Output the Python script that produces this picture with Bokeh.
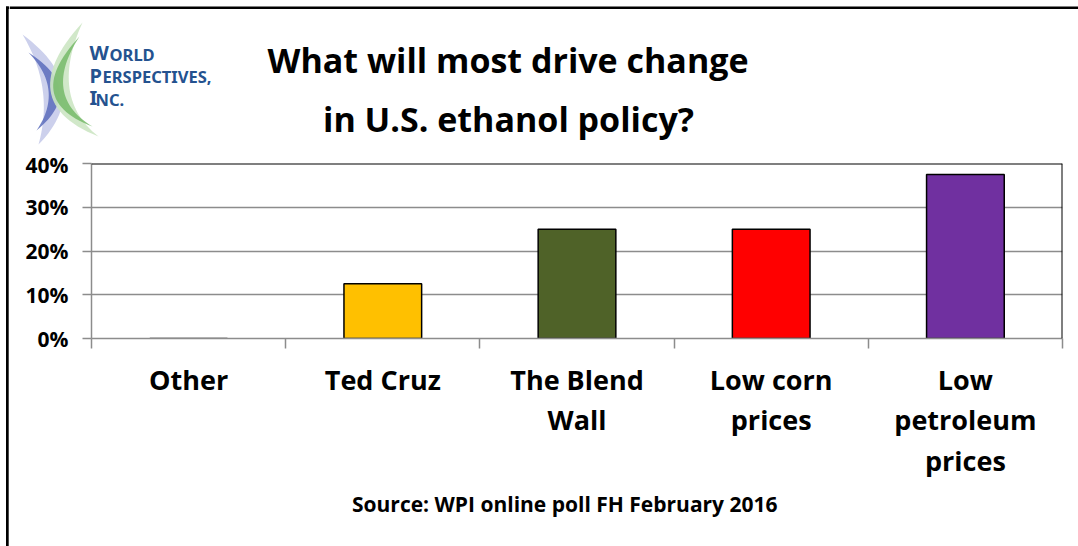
from bokeh.plotting import figure
from bokeh.layouts import row, column
from bokeh.models import Range1d, FixedTicker, NumeralTickFormatter, Span
from bokeh.core.properties import value
from bokeh.embed import file_html
from bokeh.resources import INLINE

# ---- data ----
categories = ["Other", "Ted Cruz", "The Blend\nWall", "Low corn\nprices", "Low\npetroleum\nprices"]
shares = [0.0, 0.125, 0.25, 0.25, 0.375]
bar_colors = ["#FFFFFF", "#FFC000", "#4F6228", "#FF0000", "#7030A0"]
y_ticks = [0.0, 0.1, 0.2, 0.3, 0.4]
title_lines = ["What will most  drive change", "in U.S. ethanol policy?"]
source_text = "Source:  WPI online poll FH February 2016"
logo_lines = [("W", "ORLD"), ("P", "ERSPECTIVES,"), ("I", "NC.")]

# ---- page geometry (canvas pixels) ----
W, H = 1078, 546
STRIP = 9               # left strip holding the outer border
TOP_H = 150             # title band
MID_BOT = 360           # bottom of the chart figure
FL, FR, FT, FB = 91, 1062, 163, 338   # chart frame edges
n = len(categories)
FONT = "Open Sans"
BASE_K = 0.38           # baseline correction (fraction of font size)


def base(y, size):
    return y - BASE_K * size


def blank(width, height, xr, yr):
    f = figure(width=width, height=height, output_backend="svg", toolbar_location=None,
               x_range=xr, y_range=yr, x_axis_location=None, y_axis_location=None,
               min_border=0, min_border_left=0, min_border_right=0,
               min_border_top=0, min_border_bottom=0, frame_align=False)
    f.grid.visible = False
    f.outline_line_color = None
    f.background_fill_color = "white"
    f.border_fill_color = "white"
    return f


# ---- left strip: outer border ----
strip = blank(STRIP, H, Range1d(0, STRIP), Range1d(H, 0))
strip.quad(left=[5.5, 5.5], right=[8.2, STRIP], top=[6, 6], bottom=[H, 8.5],
           fill_color="black", line_color=None)

# ---- title band ----
top = blank(W - STRIP, TOP_H, Range1d(STRIP, W), Range1d(TOP_H, 0))
top.quad(left=[STRIP], right=[W], top=[6], bottom=[8.5], fill_color="black", line_color=None)


def crescent(tp, bt, m_out, m_in, steps=30):
    def curve(m):
        cx = 2 * m[0] - (tp[0] + bt[0]) / 2
        cy = 2 * m[1] - (tp[1] + bt[1]) / 2
        pts = []
        for k in range(steps + 1):
            t = k / steps
            pts.append(((1 - t) ** 2 * tp[0] + 2 * t * (1 - t) * cx + t ** 2 * bt[0],
                        (1 - t) ** 2 * tp[1] + 2 * t * (1 - t) * cy + t ** 2 * bt[1]))
        return pts
    pts = curve(m_out) + curve(m_in)[::-1]
    return [x for x, _ in pts], [y for _, y in pts]


for (tp, bt, mo, mi, col, a) in [
    ((22, 34), (38, 144), (62, 88), (42, 88), "#c6cbea", 0.9),
    ((28, 52), (36, 130), (59, 90), (48, 90), "#5b6cbc", 0.85),
    ((82, 22), (98, 136), (50, 90), (69, 88), "#cce5c3", 0.9),
    ((79, 36), (92, 126), (53, 90), (63, 88), "#76ba69", 0.85),
]:
    cx_, cy_ = crescent(tp, bt, mo, mi)
    top.patch(cx_, cy_, fill_color=col, fill_alpha=a, line_color=None)

logo_col = "#24528f"
big_w = [20, 13, 6]
for j, (big, small) in enumerate(logo_lines):
    yb = 60 + 22.5 * j
    top.text(x=[89], y=[base(yb, 20)], text=[big], text_align="left",
             text_baseline="alphabetic", text_font=value("Noto Sans"), text_font_style="bold",
             text_font_size=value("20px"), text_color=logo_col)
    top.text(x=[89 + big_w[j]], y=[base(yb, 16.5)], text=[small], text_align="left",
             text_baseline="alphabetic", text_font=value("Noto Sans"), text_font_style="bold",
             text_font_size=value("16.5px"), text_color=logo_col)

top.text(x=[512, 508], y=[base(72, 34), base(131, 34)], text=title_lines, text_align="center",
         text_baseline="alphabetic", text_font=value(FONT), text_font_style="bold",
         text_font_size=value("34px"), text_color="black")

# ---- chart ----
p = figure(width=W - STRIP, height=MID_BOT - TOP_H, output_backend="svg", toolbar_location=None,
           x_range=Range1d(0, n), y_range=Range1d(0, y_ticks[-1]),
           min_border_left=FL - STRIP, min_border_right=W - FR,
           min_border_top=FT - TOP_H, min_border_bottom=MID_BOT - FB, frame_align=False)
p.background_fill_color = "white"
p.border_fill_color = "white"
p.outline_line_color = None

xs = [i + 0.5 for i in range(n)]
p.vbar(x=xs, top=shares, width=0.4, fill_color=bar_colors,
       line_color="black", line_width=1.5)

grid_col = "#8c8c8c"
p.xgrid.visible = False
p.ygrid.ticker = FixedTicker(ticks=y_ticks)
p.ygrid.grid_line_color = grid_col
p.ygrid.grid_line_width = 1.5

p.yaxis.ticker = FixedTicker(ticks=y_ticks)
p.yaxis.formatter = NumeralTickFormatter(format="0%")
p.yaxis.axis_line_color = grid_col
p.yaxis.axis_line_width = 1.5
p.yaxis.major_tick_line_color = grid_col
p.yaxis.major_tick_line_width = 1.5
p.yaxis.major_tick_in = 0
p.yaxis.major_tick_out = 9
p.yaxis.minor_tick_line_color = None
p.yaxis.major_label_standoff = 14
p.yaxis.major_label_text_font = FONT
p.yaxis.major_label_text_font_style = "bold"
p.yaxis.major_label_text_font_size = "21px"
p.yaxis.major_label_text_color = "black"

p.xaxis.ticker = FixedTicker(ticks=list(range(n + 1)))
p.xaxis.major_label_overrides = {i: "" for i in range(n + 1)}
p.xaxis.major_label_standoff = 0
p.xaxis.axis_line_color = grid_col
p.xaxis.axis_line_width = 1.5
p.xaxis.major_tick_line_color = grid_col
p.xaxis.major_tick_line_width = 1.5
p.xaxis.major_tick_in = 0
p.xaxis.major_tick_out = 10
p.xaxis.minor_tick_line_color = None

p.add_layout(Span(location=y_ticks[-1], dimension="width", line_color="black", line_width=2))
p.add_layout(Span(location=n, dimension="height", line_color="black", line_width=2))

# ---- category labels and source (same horizontal scale as the chart) ----
u = n / (FR - FL)
bot = blank(W - STRIP, H - MID_BOT,
            Range1d((STRIP - FL) * u, n + (W - FR) * u), Range1d(H, MID_BOT))
lab_x, lab_y, lab_t = [], [], []
for i, cat in enumerate(categories):
    for j, line in enumerate(cat.split("\n")):
        lab_x.append(i + 0.5)
        lab_y.append(base(389 + 40.5 * j, 27))
        lab_t.append(line)
bot.text(x=lab_x, y=lab_y, text=lab_t, text_align="center", text_baseline="alphabetic",
         text_font=value(FONT), text_font_style="bold", text_font_size=value("27px"),
         text_color="black")
bot.text(x=[(567 - FL) * u], y=[base(511, 21)], text=[source_text], text_align="center",
         text_baseline="alphabetic", text_font=value(FONT), text_font_style="bold",
         text_font_size=value("21px"), text_color="black")

layout = row(strip, column(top, p, bot, spacing=0), spacing=0)
open("out.html", "w").write(file_html(layout, INLINE))
